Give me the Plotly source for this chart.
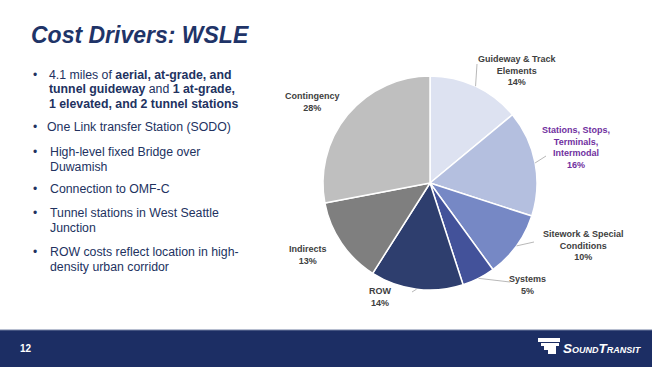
import math
import plotly.graph_objects as go

W, H = 652, 367

# ---- data ----
categories = ["Guideway & Track Elements", "Stations, Stops, Terminals, Intermodal",
              "Sitework & Special Conditions", "Systems", "ROW", "Indirects", "Contingency"]
label_text = ["Guideway & Track<br>Elements", "Stations, Stops,<br>Terminals,<br>Intermodal",
              "Sitework & Special<br>Conditions", "Systems", "ROW", "Indirects", "Contingency"]
shares = [14, 16, 10, 5, 14, 13, 28]
slice_colors = ["#dde2f1", "#b4bfdf", "#7688c5", "#43529a", "#2e3e6e", "#7f7f7f", "#bfbfbf"]

title_text = "Cost Drivers: WSLE"
bullets = [
    ["4.1 miles of <b>aerial, at-grade, and</b>",
     "<b>tunnel guideway</b> and <b>1 at-grade,</b>",
     "<b>1 elevated, and 2 tunnel stations</b>"],
    ["One Link transfer Station (SODO)"],
    ["High-level fixed Bridge over", "Duwamish"],
    ["Connection to OMF-C"],
    ["Tunnel stations in West Seattle", "Junction"],
    ["ROW costs reflect location in high-", "density urban corridor"],
]
page_number = "12"

# ---- layout / style ----
def px(x):
    return x / W

def py(y):
    return 1 - y / H

CX, CY, R = 430, 183, 107
text_color = "#22325f"
navy = "#1c2e64"

# label centers (pixels) and leader-line end points (None = no leader)
label_pos = [(517, 71), (576, 148), (583, 245), (527, 285), (380, 297), (308, 255), (312, 102)]
leader_end = [(477, 64), (546, 156), (534, 242), (510, 282), (412, 292), None, None]
label_colors = ["#404040", "#7030a0", "#404040", "#404040", "#404040", "#404040", "#404040"]

fig = go.Figure()
fig.add_trace(go.Pie(
    labels=categories, values=shares, sort=False, direction="clockwise",
    marker=dict(colors=slice_colors, line=dict(color="white", width=1.5)),
    textinfo="none", hoverinfo="skip", showlegend=False,
    domain=dict(x=[px(CX - R), px(CX + R)], y=[py(CY + R), py(CY - R)]),
))

annotations = []
shapes = []

# slice labels and leader lines
total = sum(shares)
cum = 0
for i, v in enumerate(shares):
    mid = (cum + v / 2) / total * 2 * math.pi
    cum += v
    pct = round(v / total * 100)
    lx, ly = label_pos[i]
    annotations.append(dict(
        x=px(lx), y=py(ly), xref="paper", yref="paper", showarrow=False,
        text=f"<b>{label_text[i]}<br>{pct}%</b>", align="center",
        font=dict(family="Arial, Liberation Sans", size=9, color=label_colors[i]),
        xanchor="center", yanchor="middle",
    ))
    if leader_end[i] is not None:
        sx = CX + R * math.sin(mid)
        sy = CY - R * math.cos(mid)
        ex, ey = leader_end[i]
        shapes.append(dict(type="line", xref="paper", yref="paper",
                           x0=px(sx), y0=py(sy), x1=px(ex), y1=py(ey),
                           line=dict(color="#a6a6a6", width=0.8)))

# title
annotations.append(dict(
    x=px(29), y=py(35), xref="paper", yref="paper", showarrow=False,
    text=f"<b><i>{title_text}</i></b>", xanchor="left", yanchor="middle",
    font=dict(family="Arial, Liberation Sans", size=23, color="#1f3468"),
))

# bullets
line_y = [[75, 89, 104], [127], [152, 167], [189], [213, 228], [252, 267]]
text_x = [48, 46, 48.5, 48.5, 48.5, 48.5]
for b, lines in enumerate(bullets):
    annotations.append(dict(
        x=px(35), y=py(line_y[b][0]), xref="paper", yref="paper", showarrow=False,
        text="•", xanchor="center", yanchor="middle",
        font=dict(family="Arial, Liberation Sans", size=12, color=text_color),
    ))
    for j, t in enumerate(lines):
        annotations.append(dict(
            x=px(text_x[b] - 1), y=py(line_y[b][j]), xref="paper", yref="paper", showarrow=False,
            text=t, xanchor="left", yanchor="middle",
            font=dict(family="Arial, Liberation Sans", size=12.3, color=text_color),
        ))

# footer bar
shapes.append(dict(type="rect", xref="paper", yref="paper", x0=0, x1=1, y0=0, y1=py(330),
                   fillcolor=navy, line=dict(width=0), layer="above"))
shapes.append(dict(type="line", xref="paper", yref="paper", x0=0, x1=1, y0=py(330), y1=py(330),
                   line=dict(color="#6f7ca0", width=1), layer="above"))
annotations.append(dict(
    x=px(18), y=py(348), xref="paper", yref="paper", showarrow=False,
    text=f"<b>{page_number}</b>", xanchor="left", yanchor="middle",
    font=dict(family="Arial, Liberation Sans", size=10, color="white"),
))
# logo mark
for (x0, y0, x1, y1) in [(538, 338, 560, 342), (541, 343, 559, 346), (548, 346, 556, 354), (544, 343, 549, 350)]:
    shapes.append(dict(type="rect", xref="paper", yref="paper",
                       x0=px(x0), x1=px(x1), y0=py(y1), y1=py(y0),
                       fillcolor="white", line=dict(width=0), layer="above"))
annotations.append(dict(
    x=px(561), y=py(348), xref="paper", yref="paper", showarrow=False,
    text="SoundTransit", xanchor="left", yanchor="middle",
    font=dict(family="Arial, Liberation Sans", size=13.5, color="white",
              weight="bold", style="italic", variant="small-caps"),
))

fig.update_layout(
    width=W, height=H, margin=dict(l=0, r=0, t=0, b=0),
    paper_bgcolor="white", plot_bgcolor="white",
    annotations=annotations, shapes=shapes,
)
fig.write_html("out.html")
